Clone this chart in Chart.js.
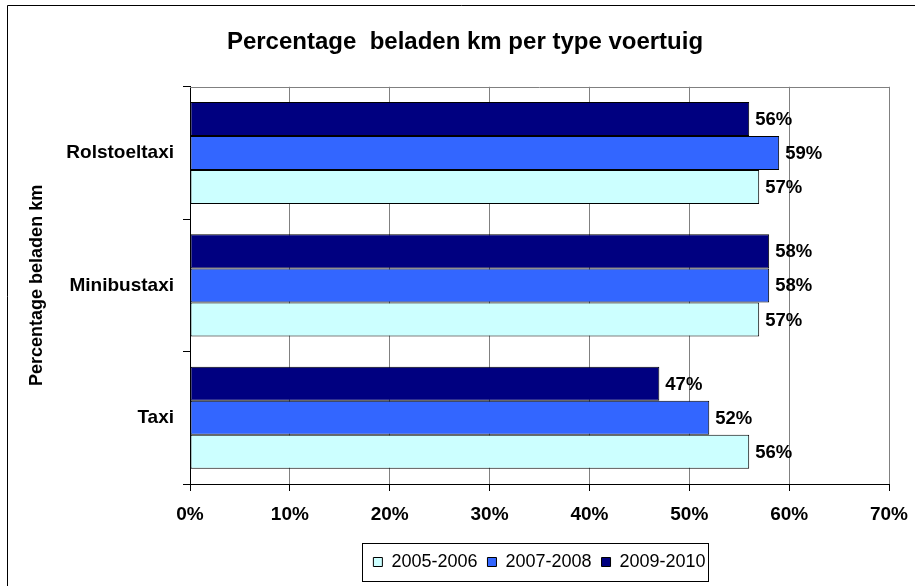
<!DOCTYPE html>
<html><head><meta charset="utf-8">
<script src="https://cdn.jsdelivr.net/npm/chart.js@4"></script>
<style>html,body{margin:0;padding:0;background:#fff;overflow:hidden}#wrap{width:915px;height:586px;position:relative}</style>
</head><body><div id="wrap"><canvas id="c" width="915" height="586"></canvas></div>
<script>
const categories = ['Rolstoeltaxi', 'Minibustaxi', 'Taxi'];
const seriesNames = ['2009-2010', '2007-2008', '2005-2006'];
const values2009_2010 = [56, 58, 47];
const values2007_2008 = [59, 58, 52];
const values2005_2006 = [57, 57, 56];
const xTickValues = [0, 10, 20, 30, 40, 50, 60, 70];
const chartTitle = 'Percentage  beladen km per type voertuig';
const yAxisTitle = 'Percentage beladen km';

const FONT = 'Arial, "Liberation Sans", sans-serif';
Chart.defaults.font.family = FONT;
Chart.defaults.color = '#000';

const framePlugin = {
  id: 'frame',
  beforeDraw(chart) {
    const ctx = chart.ctx;
    ctx.save();
    ctx.fillStyle = '#fff';
    ctx.fillRect(0, 0, chart.width, chart.height);
    ctx.strokeStyle = '#000';
    ctx.lineWidth = 1;
    ctx.beginPath();
    ctx.moveTo(7.5, chart.height + 2);
    ctx.lineTo(7.5, 5.5);
    ctx.lineTo(chart.width + 2, 5.5);
    ctx.stroke();
    ctx.restore();
  },
  beforeDatasetsDraw(chart) {
    const {ctx, chartArea} = chart;
    ctx.save();
    ctx.strokeStyle = '#808080';
    ctx.lineWidth = 1;
    ctx.beginPath();
    const y = Math.round(chartArea.top) + 0.5;
    ctx.moveTo(chartArea.left, y);
    ctx.lineTo(chartArea.right, y);
    ctx.stroke();
    ctx.restore();
  },
  afterDatasetsDraw(chart) {
    const ctx = chart.ctx;
    ctx.save();
    ctx.font = 'bold 18.5px ' + FONT;
    ctx.fillStyle = '#000';
    ctx.textAlign = 'left';
    ctx.textBaseline = 'middle';
    chart.data.datasets.forEach((ds, i) => {
      const meta = chart.getDatasetMeta(i);
      meta.data.forEach((bar, j) => {
        ctx.fillText(ds.data[j] + '%', bar.x + 6, bar.y + 1);
      });
    });
    ctx.restore();
  },
  afterDraw(chart) {
    const lg = chart.legend;
    if (!lg || !lg.legendHitBoxes || !lg.legendHitBoxes.length) return;
    const hb = lg.legendHitBoxes;
    let l = Infinity, r = -Infinity;
    hb.forEach(h => { l = Math.min(l, h.left); r = Math.max(r, h.left + h.width); });
    const ctx = chart.ctx;
    ctx.save();
    ctx.strokeStyle = '#000';
    ctx.lineWidth = 1;
    ctx.strokeRect(Math.round(l - 11) + 0.5, Math.round(lg.top) + 0.5, Math.round(r - l + 14), 38);
    ctx.restore();
  }
};

new Chart(document.getElementById('c'), {
  type: 'bar',
  data: {
    labels: categories,
    datasets: [
      { label: seriesNames[0], data: values2009_2010, backgroundColor: '#000080' },
      { label: seriesNames[1], data: values2007_2008, backgroundColor: '#3366FF' },
      { label: seriesNames[2], data: values2005_2006, backgroundColor: '#CCFFFF' }
    ].map(d => Object.assign(d, { borderColor: '#000', borderWidth: 1, borderSkipped: false, barPercentage: 1, categoryPercentage: 0.771 }))
  },
  options: {
    indexAxis: 'y',
    responsive: false,
    animation: false,
    devicePixelRatio: 1,
    layout: { padding: { left: 41, right: 26, top: 0, bottom: 5 } },
    plugins: {
      title: {
        display: true, text: chartTitle, color: '#000',
        font: { size: 24, weight: 'bold', lineHeight: 1.2 },
        padding: { top: 28, bottom: 30 }
      },
      legend: {
        position: 'bottom', fullSize: false, reverse: true,
        labels: { boxWidth: 9, boxHeight: 9, padding: 10, color: '#000', font: { size: 18 } }
      },
      tooltip: { enabled: false }
    },
    scales: {
      x: {
        type: 'linear', min: 0, max: 70,
        afterBuildTicks: s => { s.ticks = xTickValues.map(v => ({ value: v })); },
        afterFit: s => { s.height = 59; s.paddingLeft = 0; s.paddingRight = 0; },
        grid: { color: '#808080', lineWidth: 1, tickColor: '#000', tickLength: 7 },
        border: { color: '#000', width: 1 },
        ticks: { callback: v => v + '%', font: { size: 19, weight: 'bold' }, color: '#000', padding: 12, maxRotation: 0 }
      },
      y: {
        afterFit: s => { s.width = 149; },
        grid: { drawOnChartArea: false, offset: true, tickColor: '#000', tickLength: 7 },
        border: { color: '#000', width: 1 },
        ticks: { font: { size: 19, weight: 'bold' }, color: '#000', padding: 9 },
        title: { display: true, text: yAxisTitle, color: '#000', font: { size: 18, weight: 'bold', lineHeight: 1.2 }, padding: { top: -14.8, bottom: 0 } }
      }
    }
  },
  plugins: [framePlugin]
});
</script>
</body></html>
